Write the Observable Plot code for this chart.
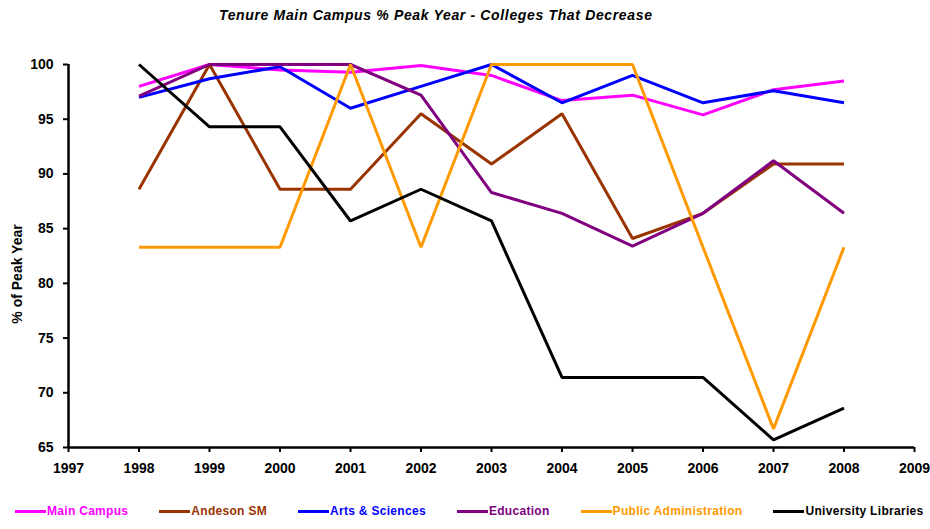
<!DOCTYPE html>
<html>
<head>
<meta charset="utf-8">
<script src="https://cdn.jsdelivr.net/npm/d3@7"></script>
<script src="https://cdn.jsdelivr.net/npm/@observablehq/plot@0.6"></script>
<style>
  body { margin: 0; background: #fff; font-family: "Liberation Sans", Arial, sans-serif; }
  #wrap { width: 930px; position: relative; }
  #title { height: 30px; display: flex; align-items: center; justify-content: flex-start; padding-left: 219px;
           font-weight: bold; font-style: italic; font-size: 14px; letter-spacing: 0.65px; color: #000; white-space: nowrap; }
  #legend { display: flex; gap: 31px; padding-left: 15px; height: 30px; align-items: center; margin-top: 6px; white-space: nowrap; }
  .item { display: flex; align-items: center; font-weight: bold; font-size: 12px; letter-spacing: 0.3px; white-space: nowrap; flex: none; }
  .sw { width: 31px; height: 3px; margin-right: 1px; }
</style>
</head>
<body>
<div id="wrap">
  <div id="title">Tenure Main Campus % Peak Year - Colleges That Decrease</div>
  <div id="chart"></div>
  <div id="legend"></div>
</div>
<script>
const years = [1998, 1999, 2000, 2001, 2002, 2003, 2004, 2005, 2006, 2007, 2008];
const seriesNames = ["Main Campus", "Andeson SM", "Arts & Sciences", "Education", "Public Administration", "University Libraries"];
const seriesColors = ["#FF00FF", "#993300", "#0000FF", "#800080", "#FF9900", "#000000"];
const mainCampus = [98.0, 100, 99.5, 99.3, 99.9, 99.0, 96.7, 97.2, 95.4, 97.7, 98.5];
const andesonSM = [88.6, 100, 88.6, 88.6, 95.5, 90.9, 95.5, 84.1, 86.4, 90.9, 90.9];
const artsSciences = [97.0, 98.7, 99.8, 96.0, 98.0, 100, 96.5, 99.0, 96.5, 97.6, 96.5];
const education = [97.1, 100, 100, 100, 97.2, 88.3, 86.4, 83.4, 86.4, 91.2, 86.4];
const publicAdmin = [83.3, 83.3, 83.3, 100, 83.3, 100, 100, 100, 83.3, 66.7, 83.3];
const univLibraries = [100, 94.3, 94.3, 85.7, 88.6, 85.7, 71.4, 71.4, 71.4, 65.7, 68.6];
const xTicks = [1997, 1998, 1999, 2000, 2001, 2002, 2003, 2004, 2005, 2006, 2007, 2008, 2009];
const yTicks = [65, 70, 75, 80, 85, 90, 95, 100];

const seriesValues = [mainCampus, andesonSM, artsSciences, education, publicAdmin, univLibraries];
const rows = [];
seriesNames.forEach((name, i) => {
  years.forEach((yr, j) => rows.push({series: name, year: yr, value: seriesValues[i][j]}));
});

const chart = Plot.plot({
  width: 930,
  height: 460,
  marginTop: 34,
  marginLeft: 68,
  marginRight: 16,
  marginBottom: 43,
  style: {fontFamily: "'Liberation Sans', Arial, sans-serif", fontWeight: "bold", color: "#000", background: "#fff"},
  x: {domain: [1997, 2009]},
  y: {domain: [65, 100]},
  color: {domain: seriesNames, range: seriesColors},
  marks: [
    Plot.axisY({ticks: yTicks, tickSize: 5, tickPadding: 10, strokeWidth: 2, label: null, fontSize: 14, fontWeight: "bold", style: {letterSpacing: "0.8px"}}),
    Plot.axisX({ticks: xTicks, tickFormat: "d", tickSize: 5, tickPadding: 11, strokeWidth: 2, label: null, fontSize: 14, fontWeight: "bold", style: {letterSpacing: "0.8px"}}),
    Plot.text(["% of Peak Year"], {frameAnchor: "left", textAnchor: "middle", dx: -51, dy: 18, rotate: -90, fontSize: 14, fontWeight: "bold", style: {letterSpacing: "1.3px"}}),
    Plot.ruleX([1997], {strokeWidth: 2.5}),
    Plot.ruleY([65], {strokeWidth: 2.5}),
    Plot.line(rows, {x: "year", y: "value", z: "series", stroke: "series", strokeWidth: 3, strokeLinejoin: "miter", strokeLinecap: "butt"})
  ]
});
document.getElementById("chart").appendChild(chart);

const legend = document.getElementById("legend");
seriesNames.forEach((name, i) => {
  const item = document.createElement("div");
  item.className = "item";
  const sw = document.createElement("div");
  sw.className = "sw";
  sw.style.background = seriesColors[i];
  const lab = document.createElement("span");
  lab.textContent = name;
  lab.style.color = seriesColors[i];
  item.appendChild(sw);
  item.appendChild(lab);
  legend.appendChild(item);
});
</script>
</body>
</html>
